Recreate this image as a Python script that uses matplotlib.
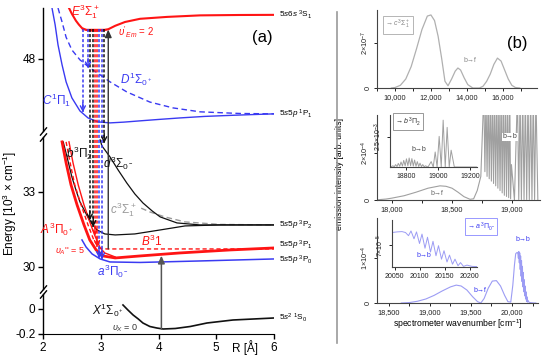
import numpy as np
import matplotlib
matplotlib.use('Agg')
import matplotlib.pyplot as plt
from matplotlib.lines import Line2D
from matplotlib.ticker import MultipleLocator

plt.rcParams.update({
    'font.family': ['Liberation Sans', 'DejaVu Sans'],
    'mathtext.fontset': 'custom', 'mathtext.rm': 'Liberation Sans',
    'mathtext.it': 'Liberation Sans:italic', 'mathtext.bf': 'Liberation Sans:bold',
    'xtick.direction': 'out', 'ytick.direction': 'out',
})

RED, BLUE, BLACK, GREY = '#ff1414', '#3a3af2', '#111111', '#9a9a9a'
W, H = 550, 361

# ---------------- panel (a): potential curves (R in Angstrom, E in 10^3 cm^-1) ----------------
E_R = [2.45, 2.50, 2.57, 2.62, 2.675, 2.75, 2.85, 2.95, 3.05, 3.13, 3.25, 3.42, 3.68, 4.15, 4.72, 5.4, 6.0]
E_E = [52.0, 51.54, 51.0, 50.7, 50.42, 50.27, 50.22, 50.22, 50.25, 50.33, 50.6, 50.9, 51.15, 51.3, 51.42, 51.45, 51.46]
C_R = [2.156, 2.21, 2.26, 2.33, 2.40, 2.50, 2.64, 2.78, 2.95, 3.16, 3.4, 3.68, 4.0, 4.37, 4.8, 5.24, 5.6, 6.0]
C_E = [52.0, 50.68, 49.1, 47.53, 46.19, 44.93, 43.9, 43.35, 43.04, 42.96, 43.02, 43.12, 43.23, 43.35, 43.47, 43.55, 43.61, 43.67]
D_R = [2.26, 2.33, 2.40, 2.50, 2.64, 2.81, 2.99, 3.16, 3.45, 3.85, 4.25, 4.72, 5.41, 6.0]
D_E = [52.0, 50.9, 49.7, 48.7, 47.92, 47.29, 46.74, 46.19, 45.4, 44.6, 44.14, 43.83, 43.7, 43.67]
b_R = [2.35, 2.42, 2.50, 2.57, 2.64, 2.73, 2.81, 2.935, 3.07, 3.25, 3.59, 4.03, 4.46, 5.06, 6.0]
b_E = [35.0, 34.36, 33.6, 33.08, 32.6, 32.2, 31.84, 31.48, 31.32, 31.28, 31.32, 31.48, 31.64, 31.68, 31.68]
d_R = [2.99, 3.02, 3.16, 3.30, 3.45, 3.59, 3.73, 3.89, 4.03, 4.32, 4.72, 5.3, 6.0]
d_E = [35.08, 34.84, 34.4, 33.88, 33.36, 32.92, 32.56, 32.24, 32.0, 31.76, 31.68, 31.68, 31.68]
c_R = [3.7, 3.85, 4.11, 4.46, 5.06, 6.0]
c_E = [32.35, 32.2, 32.0, 31.8, 31.7, 31.68]
A_R = [2.33, 2.40, 2.485, 2.59, 2.71, 2.81, 2.92, 3.04, 3.25, 3.68, 4.37, 5.24, 6.0]
A_E = [35.0, 34.16, 33.28, 32.48, 31.68, 31.08, 30.68, 30.44, 30.36, 30.44, 30.56, 30.68, 30.76]
Bd_R = [2.40, 2.47, 2.55, 2.66, 2.78, 2.88, 2.97, 3.1, 4.0, 6.0]
Bd_E = [35.0, 34.16, 33.28, 32.48, 31.68, 31.08, 30.76, 30.72, 30.72, 30.72]
Bs_R = [2.45, 2.52, 2.61, 2.71, 2.81, 2.90, 2.99, 3.07, 3.25]
Bs_E = [35.0, 34.16, 33.28, 32.48, 31.8, 31.24, 30.76, 30.56, 30.4]
a_R = [2.675, 2.745, 2.85, 2.99, 3.16, 3.68, 4.72, 6.0]
a_E = [31.08, 30.8, 30.52, 30.32, 30.2, 30.18, 30.24, 30.32]
X_R = [3.385, 3.47, 3.56, 3.65, 3.73, 3.85, 3.97, 4.08, 4.29, 4.55, 4.84, 5.29, 6.0]
X_E = [0.032, -0.008, -0.048, -0.08, -0.112, -0.14, -0.152, -0.16, -0.156, -0.14, -0.112, -0.088, -0.072]

# emission transitions from E(v'=2): R, upper E, lower E, colour
TR_R = [2.69, 2.78, 2.81, 2.87, 2.90, 2.935, 2.97, 3.02, 3.06]
TR_TOP = [50.36] * 9
TR_LOW = [43.8, 47.25, 31.86, 31.6, 31.25, 30.8, 30.36, 30.3, 34.95]
TR_COL = [BLUE, BLUE, BLACK, BLACK, RED, RED, BLUE, BLUE, BLACK]

ASYM_E = [51.46, 43.67, 31.68, 30.86, 30.26, -0.072]
ASYM_LBL = [r'5$s$6$s$ $^3$S$_1$', r'5$s$5$p$ $^1$P$_1$', r'5$s$5$p$ $^3$P$_2$',
            r'5$s$5$p$ $^3$P$_1$', r'5$s$5$p$ $^3$P$_0$', r'5$s^2$ $^1$S$_0$']

# broken energy axis: three linear pieces
E_BRK = [-100, -0.2, 0.12, 29.1, 35.2, 42.3, 52.0, 200]
P_BRK = [-99.8 * 125, 0, 40, 44.5, 197, 202.6, 325.8, 325.8 + 148 * 12.7]


def fwd(e):
    return np.interp(e, E_BRK, P_BRK)


def inv(p):
    return np.interp(p, P_BRK, E_BRK)


fig = plt.figure(figsize=(W / 100, H / 100), dpi=100)
ax = fig.add_axes([43 / W, 1 - 334 / H, 231 / W, 326 / H])
ax.set_yscale('function', functions=(fwd, inv))
ax.set_xlim(2, 6)
ax.set_ylim(-0.2, 52.0)
for s in ['top', 'right', 'left']:
    ax.spines[s].set_visible(False)
ax.set_yticks([-0.2, 0, 30, 33, 48], ['-0.2', '0', '30', '33', '48'])
ax.set_xticks([2, 3, 4, 5, 6])
ax.tick_params(labelsize=8.5, length=3.5, width=1, pad=2)
yt = ax.get_yaxis_transform()
for lo, hi in [(-0.2, 0.12), (29.1, 35.2), (42.3, 52.0)]:
    ax.plot([0, 0], [lo, hi], transform=yt, color='k', lw=1, clip_on=False)
ax.plot([0] * 4, [0.12, 29.1, 35.2, 42.3], transform=yt, ls='none', marker=[(-1, -1.2), (1, 1.2)],
        ms=6, mec='k', mew=1, clip_on=False)
ax.text(5.5, -0.02, 'R [Å]', transform=ax.get_xaxis_transform(), ha='center', va='top', fontsize=8.5)
fig.text(10 / W, 1 - 203 / H, r'Energy [10$^3$ × cm$^{-1}$]', rotation=90, ha='center', va='center', fontsize=8.5)

ax.plot(C_R, C_E, color=BLUE, lw=1)
ax.plot(D_R, D_E, color=BLUE, lw=1, ls=(0, (4, 2.5)))
ax.plot(E_R, E_E, color=RED, lw=1.5)
ax.plot([2.68, 3.12], [50.36, 50.36], color=RED, lw=1)
ax.plot(c_R, c_E, color=GREY, lw=1, ls=(0, (4, 2.5)))
ax.plot(b_R, b_E, color=BLACK, lw=0.9)
ax.plot(d_R, d_E, color=BLACK, lw=0.9)
ax.plot(a_R, a_E, color=BLUE, lw=1.1)
ax.plot(Bs_R, Bs_E, color=RED, lw=1)
ax.plot(Bd_R, Bd_E, color=RED, lw=1, ls=(0, (3, 2)))
ax.plot(A_R, A_E, color=RED, lw=2)
ax.plot(X_R, X_E, color=BLACK, lw=1.2)

for r, e0, e1, col in zip(TR_R, TR_TOP, TR_LOW, TR_COL):
    ax.plot([r, r], [e0, e1], color=col, lw=1.1, ls=(0, (2, 1.3)))
    ax.annotate('', xy=(r, e1), xytext=(0, 7), textcoords='offset points',
                arrowprops=dict(arrowstyle='->,head_length=0.35,head_width=0.18', color=col, lw=1,
                                shrinkA=0, shrinkB=0))
ax.annotate('', xy=(4.05, 30.45), xytext=(4.05, -0.16),
            arrowprops=dict(arrowstyle='-|>,head_length=0.45,head_width=0.2', color='#555555', lw=1.1,
                            shrinkA=0, shrinkB=0))
ax.annotate('', xy=(3.13, 50.3), xytext=(3.13, 30.72),
            arrowprops=dict(arrowstyle='-|>,head_length=0.45,head_width=0.2', color='#333333', lw=1,
                            shrinkA=0, shrinkB=0))

fs = 8.5
ax.text(2.73, 51.75, r'$E^3\Sigma_1^+$', color=RED, fontsize=fs, ha='center', va='center')
ax.text(3.3, 50.1, r"$\upsilon'_{Em}$ = 2", color=RED, fontsize=7, ha='left', va='center')
ax.text(2.24, 44.77, r'$C^1\Pi_1$', color=BLUE, fontsize=fs, ha='center', va='center')
ax.text(3.61, 46.35, r'$D^1\Sigma_{0^+}$', color=BLUE, fontsize=fs, ha='center', va='center')
ax.text(2.64, 34.56, r'$b^3\Pi_2$', color=BLACK, fontsize=fs, ha='center', va='center')
ax.text(3.30, 34.16, r'$d^3\Sigma_{0^-}$', color=BLACK, fontsize=fs, ha='center', va='center')
ax.text(3.385, 32.28, r'$c^3\Sigma_1^+$', color=GREY, fontsize=fs, ha='center', va='center')
ax.text(2.24, 31.52, r'$A^3\Pi_{0^+}$', color=RED, fontsize=fs, ha='center', va='center')
ax.text(2.47, 30.64, r"$\upsilon_A$'' = 5", color=RED, fontsize=6.5, ha='center', va='center')
ax.text(3.89, 31.04, r'$B^3$1', color=RED, fontsize=fs, ha='center', va='center')
ax.text(3.21, 29.84, r'$a^3\Pi_{0^-}$', color=BLUE, fontsize=fs, ha='center', va='center')
ax.text(3.13, -0.008, r'$X^1\Sigma_{0^+}$', color=BLACK, fontsize=fs, ha='center', va='center')
ax.text(3.42, -0.152, r'$\upsilon_X$ = 0', color='#333333', fontsize=6.5, ha='center', va='center')
ax.text(5.79, 49.65, '(a)', fontsize=12, ha='center', va='center')
for e, lbl in zip(ASYM_E, ASYM_LBL):
    ax.text(6.09, e, lbl, fontsize=5.9, ha='left', va='center', clip_on=False)

fig.add_artist(Line2D([337 / W] * 2, [1 - 12 / H, 1 - 343 / H], color='#9a9a9a', lw=1.2))

# ---------------- panel (b): spectra ----------------
B1_X = [9800, 10000, 10300, 10600, 10900, 11200, 11500, 11800, 12000, 12200, 12400, 12600, 12780,
        12950, 13150, 13350, 13500, 13650, 13850, 14050, 14330, 14700, 14900, 15100, 15300, 15500,
        15700, 15900, 16100, 16300, 16500, 16700, 16940]
B1_Y = [0, 0.02, 0.12, 0.4, 0.95, 1.75, 2.6, 3.2, 3.25, 3.0, 2.3, 1.3, 0.3,
        0.1, 0.4, 0.75, 0.89, 0.8, 0.45, 0.15, 0.0, 0.0, 0.08, 0.3, 0.62, 1.05,
        1.33, 1.2, 0.8, 0.4, 0.12, 0.02, 0]

HUMP2_X = [17880, 17950, 18000, 18100, 18200, 18300, 18400, 18450, 18500, 18550, 18600, 18650,
           18680, 18710, 18740]
HUMP2_Y = [0.01, 0.04, 0.08, 0.18, 0.33, 0.5, 0.6, 0.58, 0.5, 0.33, 0.14, 0.03, 0.05, 0.4, 1.0]
PEAK2_X = [18765, 18783, 18801, 18819, 18837, 18855, 18873, 18891, 18909, 18927, 18945, 18963, 18981,
           18995, 19045, 19067, 19089, 19111, 19133, 19155, 19177, 19199]
PEAK2_Y = [4.5, 4.5, 4.5, 4.5, 4.5, 4.5, 4.5, 4.5, 4.5, 4.5, 4.5, 4.5, 4.5,
           1.5, 4.5, 4.5, 4.5, 4.5, 4.5, 4.5, 4.5, 4.5]
VAL2_X = [18774, 18792, 18810, 18828, 18846, 18864, 18882, 18900, 18918, 18936, 18954, 18972, 18988,
          19020, 19056, 19078, 19100, 19122, 19144, 19166, 19188, 19215]
VAL2_Y = [1.2, 1.0, 0.9, 0.8, 0.7, 0.6, 0.5, 0.4, 0.3, 0.2, 0.15, 0.1, 0.05,
          0.0, 0.02, 0.02, 0.02, 0.02, 0.02, 0.02, 0.02, 0.0]

IN2_PEAK_X = [18715, 18732, 18749, 18766, 18783, 18800, 18817, 18834, 18851, 18868, 18885, 18902, 18919,
              18955, 18980, 19005, 19030, 19055, 19080]
IN2_PEAK_Y = [0.1, 0.2, 0.3, 0.42, 0.55, 0.68, 0.75, 0.7, 0.58, 0.45, 0.32, 0.2, 0.1,
              0.45, 1.25, 2.55, 3.9, 3.3, 1.4]
IN2_VAL_X = [18700, 18724, 18741, 18758, 18775, 18792, 18809, 18826, 18843, 18860, 18877, 18894, 18911,
             18935, 18968, 18992, 19018, 19043, 19068, 19100, 19240]
IN2_VAL_Y = [0, 0.02, 0.04, 0.06, 0.08, 0.1, 0.1, 0.1, 0.08, 0.06, 0.04, 0.03, 0.02,
             0.0, 0.0, 0.0, 0.0, 0.0, 0.0, 0.0, 0.0]

B3_X = [18650, 18750, 18850, 18950, 19050, 19150, 19250, 19320, 19380, 19450, 19520, 19580, 19620,
        19660, 19710, 19760, 19810, 19860, 19910, 19950, 19985, 20010, 20030]
B3_Y = [0.0, 0.01, 0.04, 0.09, 0.17, 0.27, 0.36, 0.4, 0.38, 0.29, 0.14, 0.03, 0.0,
        0.1, 0.33, 0.49, 0.5, 0.38, 0.17, 0.03, 0.02, 0.4, 0.85]
OSC_X = [20045, 20055, 20065, 20072, 20078, 20083, 20089, 20094, 20100, 20105, 20111, 20116, 20122,
         20127, 20133, 20138, 20144, 20149, 20155, 20160, 20166, 20171, 20177, 20182, 20188, 20195,
         20205, 20220, 20240, 20270, 20290]
OSC_Y = [1.10, 1.12, 1.13, 1.10, 1.0, 1.15, 0.9, 1.12, 0.75, 1.05, 0.6, 0.95, 0.48,
         0.82, 0.36, 0.68, 0.25, 0.52, 0.16, 0.38, 0.09, 0.25, 0.04, 0.14, 0.02, 0.06,
         0.02, 0.01, 0.005, 0.0, 0.0]

G1, G2, V3 = '#b0b0b0', '#a0a0a0', '#9c9cf4'
SP = '#444444'


def style(a, fs=5.3):
    for s in ['top', 'right']:
        a.spines[s].set_visible(False)
    for s in ['left', 'bottom']:
        a.spines[s].set_color(SP)
        a.spines[s].set_linewidth(0.8)
    a.tick_params(labelsize=fs, length=2.5, width=0.7, pad=1.5, colors='#222222')
    a.tick_params(axis='y', labelrotation=90)
    for t in a.get_yticklabels():
        t.set_va('center')


def merged(x1, y1, x2, y2, x3=(), y3=()):
    x = np.concatenate([x1, x2, x3])
    y = np.concatenate([y1, y2, y3])
    o = np.argsort(x)
    return x[o], y[o]


b1 = fig.add_axes([377 / W, 1 - 88 / H, 160 / W, 78 / H])
b1.plot(B1_X, np.array(B1_Y) * 1e-7, color=G1, lw=0.9)
b1.set_xlim(9000, 17900)
b1.set_ylim(0, 3.47e-7)
b1.set_xticks([10000, 12000, 14000, 16000], ['10,000', '12,000', '14,000', '16,000'])
b1.set_yticks([0, 2e-7], ['0', r'2×10$^{-7}$'])
b1.xaxis.set_minor_locator(MultipleLocator(1000))
style(b1)
b1.text(0.05, 0.81, r'→ $c^3\Sigma_1^+$', transform=b1.transAxes, fontsize=5, color='#888888',
        ha='left', va='center', bbox=dict(boxstyle='square,pad=0.35', fc='white', ec='#aaaaaa', lw=0.6))
b1.text(14170, 1.24e-7, 'b→f', fontsize=5, color='#888888', ha='center', va='center')
b1.text(16780, 2.0e-7, '(b)', fontsize=12, ha='center', va='center')

b2 = fig.add_axes([377 / W, 1 - 200 / H, 163 / W, 85 / H])
x2, y2 = merged(HUMP2_X, HUMP2_Y, PEAK2_X, PEAK2_Y, VAL2_X, VAL2_Y)
b2.plot(x2, y2 * 1e-4, color=G2, lw=0.8)
b2.set_xlim(17875, 19233)
b2.set_ylim(0, 3.6e-4)
b2.set_xticks([18000, 18500, 19000], ['18,000', '18,500', '19,000'])
b2.set_yticks([0, 2e-4], ['0', r'2×10$^{-4}$'])
b2.xaxis.set_minor_locator(MultipleLocator(250))
style(b2)
b2.set_ylabel('emission intensity [arb. units]', fontsize=6.2, labelpad=1)
b2.yaxis.set_label_coords(-0.2, 0.3)
b2.text(18375, 0.26e-4, 'b→f', fontsize=5, color='#666666', ha='center', va='center')
b2.text(18983, 2.68e-4, 'b→b', fontsize=5, color='#444444', ha='center', va='center',
        bbox=dict(boxstyle='square,pad=0.1', fc='white', ec='none'))

i2 = fig.add_axes([390 / W, 1 - 167 / H, 87 / W, 52 / H])
xi, yi = merged(IN2_PEAK_X, IN2_PEAK_Y, IN2_VAL_X, IN2_VAL_Y)
i2.plot(xi, yi * 1e-3, color=G2, lw=0.7)
i2.set_xlim(18697, 19242)
i2.set_ylim(0, 4.33e-3)
i2.set_xticks([18800, 19000, 19200], ['18800', '19000', '19200'])
i2.set_yticks([2.5e-3], [r'2.5×10$^{-3}$'])
style(i2, 5)
i2.patch.set_alpha(0)
i2.text(0.06, 0.87, r'→ $b^3\Pi_2$', transform=i2.transAxes, fontsize=5, color='#333333',
        ha='left', va='center', bbox=dict(boxstyle='square,pad=0.3', fc='white', ec='#888888', lw=0.6))
i2.text(18876, 1.42e-3, 'b→b', fontsize=5, color='#444444', ha='center', va='center')

b3 = fig.add_axes([377 / W, 1 - 303 / H, 161 / W, 85 / H])
b3.plot(list(B3_X) + list(OSC_X), (np.array(list(B3_Y) + list(OSC_Y))) * 1e-4, color=V3, lw=0.8)
b3.set_xlim(18354, 20317)
b3.set_ylim(0, 1.9e-4)
b3.set_xticks([18500, 19000, 19500, 20000], ['18,500', '19,000', '19,500', '20,000'])
b3.set_yticks([0, 1e-4], ['0', r'1×10$^{-4}$'])
b3.xaxis.set_minor_locator(MultipleLocator(250))
style(b3)
b3.set_xlabel(r'spectrometer wavenumber [cm$^{-1}$]', fontsize=6.2, labelpad=1)
b3.text(19622, 1.71e-4, r'→ $a^3\Pi_{0^-}$', fontsize=5, color=BLUE, ha='center', va='center',
        bbox=dict(boxstyle='square,pad=0.3', fc='white', ec='#8888ff', lw=0.6))
b3.text(19610, 0.29e-4, 'b→f', fontsize=5, color=BLUE, ha='center', va='center')
b3.text(20130, 1.42e-4, 'b→b', fontsize=5, color=BLUE, ha='center', va='center')

i3 = fig.add_axes([392 / W, 1 - 267 / H, 85 / W, 47 / H])
i3.plot(OSC_X, np.array(OSC_Y) * 1e-4, color=V3, lw=0.7)
i3.set_xlim(20045, 20215)
i3.set_ylim(0, 1.5e-4)
i3.set_xticks([20050, 20100, 20150, 20200], ['20050', '20100', '20150', '20200'])
i3.set_yticks([7e-5], [r'7×10$^{-5}$'])
style(i3, 5)
i3.patch.set_alpha(0)
i3.text(20108, 0.38e-4, 'b→b', fontsize=5, color=BLUE, ha='center', va='center')

fig.savefig('out.png', dpi=100)
